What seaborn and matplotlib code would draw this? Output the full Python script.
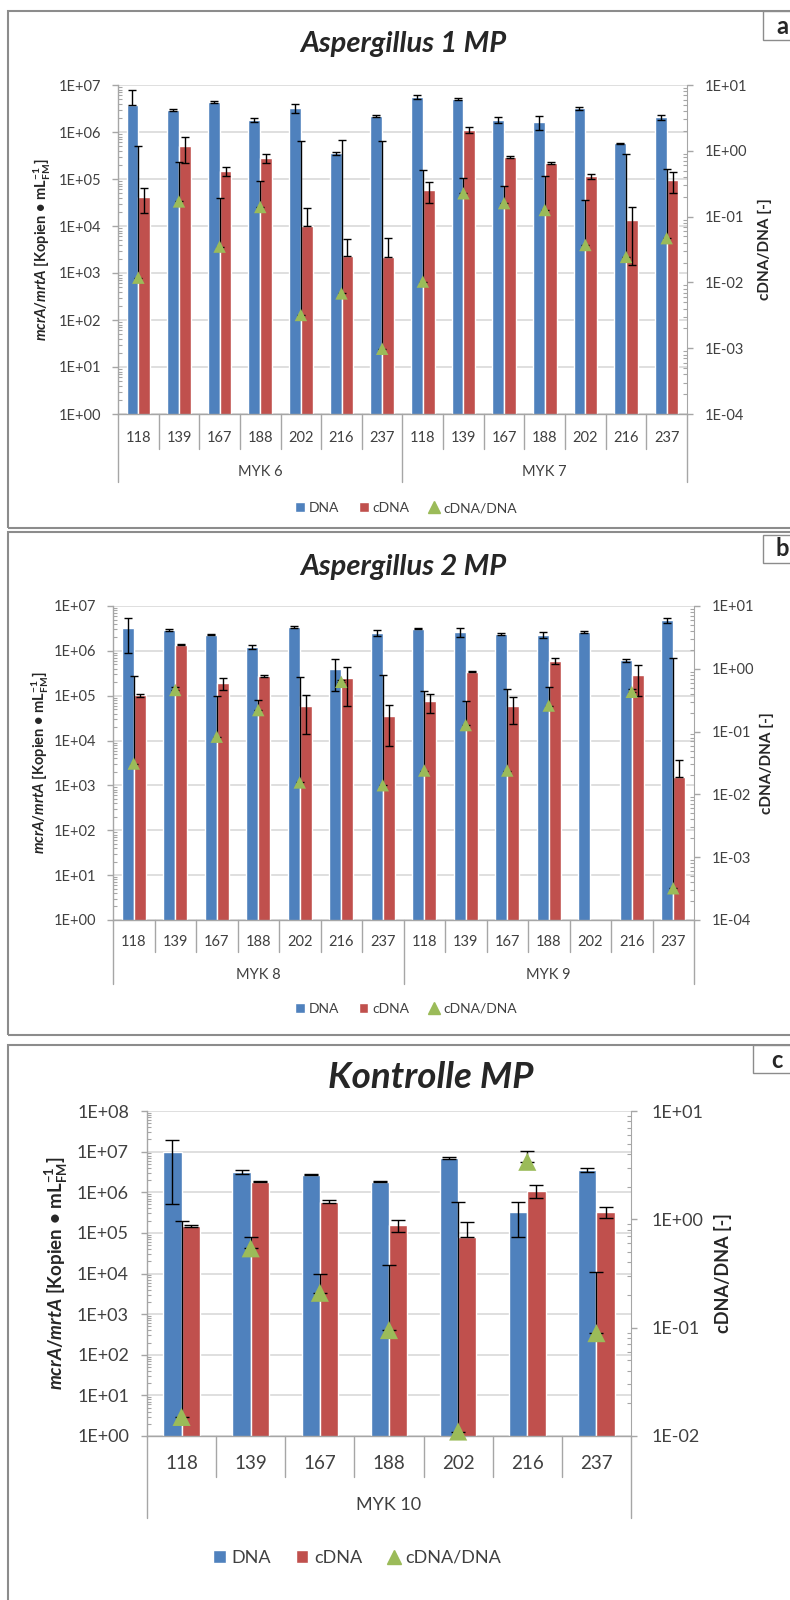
import numpy as np
import pandas as pd
import matplotlib
matplotlib.use('Agg')
import matplotlib.pyplot as plt
import seaborn as sns
from matplotlib.patches import Patch, Rectangle
from matplotlib.lines import Line2D
from matplotlib.ticker import LogLocator, FuncFormatter, NullFormatter

nan = np.nan

# ---------------------
# data
# ---------------------
samples = ['118', '139', '167', '188', '202', '216', '237']

groups_a = ['MYK 6', 'MYK 7']
dna_a = [3.7e6, 2.95e6, 4.3e6, 1.8e6, 3.2e6, 3.5e5, 2.2e6,
         5.6e6, 5.1e6, 1.8e6, 1.66e6, 3.2e6, 5.7e5, 2.05e6]
dna_a_err = [4.1e6, 1.5e5, 2e5, 2e5, 7e5, 2e4, 1e5,
             5e5, 2e5, 2.5e5, 5.5e5, 2.5e5, 2e4, 2.5e5]
cdna_a = [4.1e4, 5.1e5, 1.48e5, 2.75e5, 1.0e4, 2.3e3, 2.15e3,
          5.8e4, 1.1e6, 2.96e5, 2.15e5, 1.16e5, 1.35e4, 9.5e4]
cdna_a_err = [2.2e4, 2.9e5, 3e4, 6e4, 1.4e4, 3.1e3, 3.3e3,
              2.7e4, 1.5e5, 1e4, 1e4, 1.4e4, 1.2e4, 4.5e4]
ratio_a = [0.0118, 0.17, 0.035, 0.14, 0.0032, 0.0068, 0.00098,
           0.0103, 0.226, 0.16, 0.126, 0.037, 0.0244, 0.047]
ratio_a_err = [1.19, 0.5, 0.16, 0.21, 1.42, 1.45, 1.43,
               0.5, 0.16, 0.13, 0.29, 0.14, 0.87, 0.49]

groups_b = ['MYK 8', 'MYK 9']
dna_b = [3.2e6, 2.95e6, 2.3e6, 1.22e6, 3.4e6, 3.9e5, 2.5e6,
         3.1e6, 2.6e6, 2.35e6, 2.3e6, 2.6e6, 6.2e5, 4.8e6]
dna_b_err = [2.3e6, 2e5, 1e5, 1e5, 1.5e5, 2.6e5, 4e5,
             1e5, 6e5, 1e5, 4e5, 1.5e5, 5e4, 7e5]
cdna_b = [1.02e5, 1.38e6, 1.94e5, 2.75e5, 5.8e4, 2.5e5, 3.55e4,
          7.6e4, 3.4e5, 5.8e4, 6.0e5, nan, 2.9e5, 1.55e3]
cdna_b_err = [1e4, 5e4, 6e4, 1e4, 4.4e4, 1.9e5, 2.8e4,
              3.5e4, 1e4, 3.5e4, 1e5, nan, 1.9e5, 2.2e3]
ratio_b = [0.031, 0.46, 0.083, 0.22, 0.0155, 0.62, 0.014,
           0.024, 0.127, 0.024, 0.26, nan, 0.43, 3.2e-4]
ratio_b_err = [0.75, 0.05, 0.28, 0.1, 0.73, 0.05, 0.78,
               0.42, 0.18, 0.46, 0.26, nan, 0.05, 1.47]

groups_c = ['MYK 10']
dna_c = [1.0e7, 3.2e6, 2.7e6, 1.8e6, 6.9e6, 3.3e5, 3.55e6]
dna_c_err = [9.5e6, 4e5, 1e5, 5e4, 4e5, 2.5e5, 4e5]
cdna_c = [1.5e5, 1.8e6, 5.9e5, 1.58e5, 7.8e4, 1.1e6, 3.3e5]
cdna_c_err = [1e4, 5e4, 6e4, 5e4, 1.1e5, 3.7e5, 1e5]
ratio_c = [0.015, 0.54, 0.21, 0.095, 0.011, 3.4, 0.089]
ratio_c_err = [0.94, 0.15, 0.1, 0.28, 1.42, 0.85, 0.24]

series_names = ['DNA', 'cDNA', 'cDNA/DNA']

BLUE = '#4F81BD'
RED = '#C0504D'
GREEN = '#9BBB59'
GRID = '#D9D9D9'
AXIS = '#A6A6A6'
TXT = '#404040'

W, H = 790, 1600

sns.set_style('white')
plt.rcParams['font.family'] = ['Lato', 'DejaVu Sans']
plt.rcParams['mathtext.fontset'] = 'custom'
plt.rcParams['mathtext.rm'] = 'Lato:bold'
plt.rcParams['mathtext.bf'] = 'Lato:bold'
plt.rcParams['mathtext.it'] = 'Lato:bold:italic'


def px_rect(l, t, r, b):
    return [l / W, 1 - b / H, (r - l) / W, (b - t) / H]


def fmt_e(v, pos):
    e = int(round(np.log10(v)))
    return f'1E{e:+03d}'


def style_log_axis(axis, lo, hi, fs, major_dir, pad):
    axis.set_yscale('log')
    axis.set_ylim(lo, hi)
    axis.yaxis.set_major_locator(LogLocator(base=10, numticks=20))
    axis.yaxis.set_minor_locator(LogLocator(base=10, subs=np.arange(2, 10), numticks=20))
    axis.yaxis.set_minor_formatter(NullFormatter())
    axis.yaxis.set_major_formatter(FuncFormatter(fmt_e))
    axis.tick_params(axis='y', which='major', direction=major_dir, length=4, width=1,
                     color=AXIS, labelsize=fs, labelcolor=TXT, pad=pad)
    axis.tick_params(axis='y', which='minor', direction='in', length=3, width=0.8, color=AXIS)


def draw_panel(fig, box, groups, dna, dna_err, cdna, cdna_err, ratio, ratio_err,
               left_top, right_lim, title, cfg):
    n = len(groups) * len(samples)
    idx = np.arange(n)
    keys = [f'{g} {s}' for g in groups for s in samples]
    df = pd.DataFrame({
        'key': keys * 2,
        'Probe': ['DNA'] * n + ['cDNA'] * n,
        'value': np.concatenate([dna, cdna]),
    })

    ax = fig.add_axes(px_rect(*box))
    bw = cfg['bar_width']
    sns.barplot(data=df, x='key', y='value', hue='Probe', order=keys,
                hue_order=['DNA', 'cDNA'], palette={'DNA': BLUE, 'cDNA': RED},
                width=bw, saturation=1, errorbar=None, legend=False, ax=ax)
    style_log_axis(ax, 1, left_top, cfg['tick_fs'], 'out', cfg['lpad'])
    ax.set_axisbelow(True)
    ax.yaxis.grid(True, which='major', color=GRID, lw=1.2)
    ax.set_xlabel('')
    ax.set_ylabel('')
    ax.tick_params(axis='x', length=0, labelbottom=False)
    for s in ['top', 'right']:
        ax.spines[s].set_visible(False)
    for s in ['left', 'bottom']:
        ax.spines[s].set_color(AXIS)
        ax.spines[s].set_linewidth(1)

    # error bars on the bars (lower part dropped where it would be <= 0)
    for j, (vals, errs) in enumerate([(dna, dna_err), (cdna, cdna_err)]):
        vals = np.asarray(vals, dtype=float)
        errs = np.asarray(errs, dtype=float)
        lower = np.where(vals - errs > 0, errs, 0)
        ax.errorbar(idx + (j - 0.5) * bw / 2, vals, yerr=[lower, errs], fmt='none',
                    ecolor='black', elinewidth=1, capsize=cfg['capsize'], capthick=1, zorder=3)

    # ratio on secondary axis
    ax2 = ax.twinx()
    ratio = np.asarray(ratio, dtype=float)
    ratio_err = np.asarray(ratio_err, dtype=float)
    ax2.errorbar(idx, ratio, yerr=[np.zeros(n), ratio_err], fmt='none', ecolor='black',
                 elinewidth=1, capsize=cfg['capsize'], capthick=1, zorder=3)
    sns.scatterplot(x=idx, y=ratio, marker='^', color=GREEN, s=cfg['tri'], edgecolor='none',
                    ax=ax2, zorder=4, clip_on=False, legend=False)
    style_log_axis(ax2, right_lim[0], right_lim[1], cfg['tick_fs'], 'out', cfg['rpad'])
    ax2.set_ylabel('')
    for s in ['top', 'left', 'bottom']:
        ax2.spines[s].set_visible(False)
    ax2.spines['right'].set_color(AXIS)
    ax.set_xlim(-0.5, n - 0.5)

    # category axis: labels, separators, group labels
    xt = ax.get_xaxis_transform()
    labels = samples * len(groups)
    for i in idx:
        ax.text(i, -cfg['cat_y'], labels[i], transform=xt, ha='center', va='center',
                fontsize=cfg['cat_fs'], color=TXT)
    for bnd in np.arange(n + 1) - 0.5:
        is_group = (bnd + 0.5) % len(samples) == 0
        depth = cfg['gsep_y'] if is_group else cfg['sep_y']
        ax.plot([bnd, bnd], [0, -depth], transform=xt, color=AXIS, lw=1, clip_on=False)
    for g, name in enumerate(groups):
        ax.text(g * len(samples) + (len(samples) - 1) / 2, -cfg['grp_y'], name, transform=xt,
                ha='center', va='center', fontsize=cfg['grp_fs'], color=TXT)

    handles = [Patch(facecolor=BLUE), Patch(facecolor=RED),
               Line2D([0], [0], marker='^', ls='none', color=GREEN, markersize=cfg['leg_ms'])]
    ax2.legend(handles, series_names, loc='center', bbox_to_anchor=cfg['leg'],
               bbox_transform=ax.transAxes, ncol=3, frameon=False, fontsize=cfg['leg_fs'],
               handlelength=0.7, handleheight=0.7, handletextpad=0.3, columnspacing=1.4,
               labelcolor=TXT)

    l, t, r, b = box
    yc = 1 - (t + b) / 2 / H
    fig.text(cfg['ylab_x'] / W, yc,
             r'$\mathit{mcrA/mrtA}$ [Kopien • mL$_{\mathrm{FM}}^{\mathrm{-1}}$]',
             rotation=90, ha='center', va='center', fontsize=cfg['ylab_fs'], fontweight='bold')
    fig.text(cfg['rlab_x'] / W, yc, 'cDNA/DNA [-]', rotation=90, ha='center', va='center',
             fontsize=cfg['rlab_fs'], fontweight='bold')
    fig.text(cfg['title_xy'][0] / W, 1 - cfg['title_xy'][1] / H, title, ha='center', va='center',
             fontsize=cfg['title_fs'], fontweight='bold', fontstyle='italic')
    return ax, ax2


fig = plt.figure(figsize=(W / 100, H / 100), dpi=100)
fig.patch.set_facecolor('white')

cfg_ab = dict(bar_width=0.58, tick_fs=10.5, cat_fs=10.5, grp_fs=10.5, leg_fs=10, leg_ms=8,
              ylab_fs=10.5, rlab_fs=11, title_fs=21, tri=80, capsize=3, lpad=8, rpad=9)

cfg_a = dict(cfg_ab, cat_y=0.073, sep_y=0.106, grp_y=0.176, gsep_y=0.207, leg=(0.506, -0.286),
             ylab_x=42, rlab_x=765, title_xy=(403, 44))
draw_panel(fig, (118, 85, 687, 414), groups_a, dna_a, dna_a_err, cdna_a, cdna_a_err,
           ratio_a, ratio_a_err, 1e7, (1e-4, 1e1), 'Aspergillus 1 MP', cfg_a)

cfg_b = dict(cfg_ab, cat_y=0.069, sep_y=0.101, grp_y=0.175, gsep_y=0.204, leg=(0.504, -0.283),
             ylab_x=40, rlab_x=767, title_xy=(403, 567))
draw_panel(fig, (113, 606, 694, 920), groups_b, dna_b, dna_b_err, cdna_b, cdna_b_err,
           ratio_b, ratio_b_err, 1e7, (1e-4, 1e1), 'Aspergillus 2 MP', cfg_b)

cfg_c = dict(bar_width=0.53, tick_fs=13, cat_fs=13.5, grp_fs=13, leg_fs=13, leg_ms=10,
             ylab_fs=13.5, rlab_fs=13, title_fs=26.5, tri=170, capsize=5, lpad=9, rpad=11,
             cat_y=0.086, sep_y=0.125, grp_y=0.212, gsep_y=0.252, leg=(0.434, -0.375),
             ylab_x=57, rlab_x=723, title_xy=(431, 1078))
draw_panel(fig, (147, 1111, 631, 1436), groups_c, dna_c, dna_c_err, cdna_c, cdna_c_err,
           ratio_c, ratio_c_err, 1e8, (1e-2, 1e1), 'Kontrolle MP', cfg_c)

# panel frames and letter boxes
FRAME = '#8C8C8C'
for (t, b) in [(11, 528), (532, 1035), (1045, 1640)]:
    fig.add_artist(Rectangle((8 / W, 1 - b / H), 820 / W, (b - t) / H, transform=fig.transFigure,
                             fill=False, edgecolor=FRAME, lw=1.5))
for (letter, l, t, b, tx, ty) in [('a', 763, 11, 40, 782, 26), ('b', 763, 535, 563, 782, 549),
                                  ('c', 753, 1045, 1073, 777, 1060)]:
    fig.add_artist(Rectangle((l / W, 1 - b / H), 60 / W, (b - t) / H, transform=fig.transFigure,
                             facecolor='white', edgecolor=FRAME, lw=1))
    fig.text(tx / W, 1 - ty / H, letter, ha='center', va='center', fontsize=17, fontweight='bold')

fig.savefig('out.png', dpi=100)
